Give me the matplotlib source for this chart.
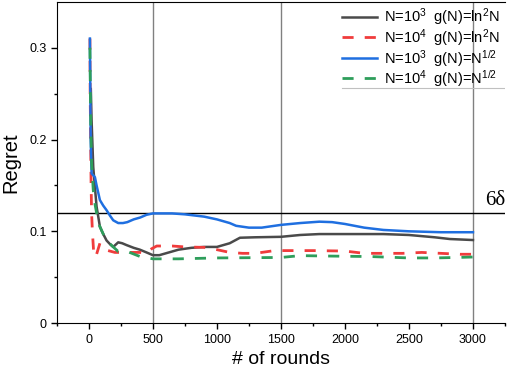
import matplotlib
matplotlib.use("Agg")
import matplotlib.pyplot as plt
from matplotlib.lines import Line2D

plt.rcParams['font.family'] = ['Liberation Sans', 'DejaVu Sans']
plt.rcParams['mathtext.fontset'] = 'custom'
plt.rcParams['mathtext.rm'] = 'Liberation Sans'
plt.rcParams['mathtext.it'] = 'Liberation Sans'

# N=10^3, g(N)=ln^2 N
x_black = [15, 21, 34, 47, 60, 86, 112, 138, 165, 190, 229, 260, 294, 350, 398, 450, 500, 550, 600,
           700, 800, 900, 1000, 1100, 1180, 1300, 1500, 1650, 1800, 2000, 2300, 2500, 2700, 2820, 3000]
y_black = [0.255, 0.221, 0.17, 0.148, 0.127, 0.105, 0.097, 0.09, 0.086, 0.083, 0.088, 0.087, 0.085, 0.082,
           0.080, 0.077, 0.074, 0.074, 0.076, 0.080, 0.082, 0.083, 0.083, 0.087, 0.093, 0.0935, 0.094, 0.096,
           0.097, 0.097, 0.097, 0.096, 0.0935, 0.0916, 0.0905]

# N=10^4, g(N)=ln^2 N
x_red = [8, 10, 13, 17, 21, 28, 36, 47, 60, 86, 112, 150, 203, 260, 320, 400, 450, 490, 530, 650, 750,
         900, 1000, 1100, 1200, 1300, 1450, 1750, 2000, 2150, 2450, 2600, 2750, 2900, 3000]
y_red = [0.31, 0.25, 0.207, 0.153, 0.12, 0.098, 0.08, 0.072, 0.075, 0.087, 0.083, 0.079, 0.077, 0.077,
         0.077, 0.077, 0.076, 0.081, 0.084, 0.084, 0.083, 0.0825, 0.080, 0.077, 0.076, 0.076, 0.079, 0.079,
         0.0785, 0.076, 0.076, 0.077, 0.076, 0.075, 0.075]

# N=10^3, g(N)=N^1/2
x_blue = [8, 14, 21, 34, 47, 60, 86, 112, 138, 165, 190, 229, 266, 300, 350, 400, 450, 500, 650, 750,
          900, 1000, 1100, 1150, 1250, 1350, 1450, 1500, 1650, 1800, 1900, 2000, 2150, 2300, 2500, 2750, 3000]
y_blue = [0.31, 0.2, 0.163, 0.161, 0.159, 0.15, 0.134, 0.128, 0.123, 0.117, 0.112, 0.109, 0.109, 0.110,
          0.113, 0.115, 0.118, 0.1195, 0.1195, 0.1185, 0.116, 0.113, 0.109, 0.106, 0.104, 0.104, 0.106,
          0.107, 0.109, 0.1105, 0.110, 0.108, 0.104, 0.1015, 0.100, 0.099, 0.099]

# N=10^4, g(N)=N^1/2
x_green = [8, 14, 21, 34, 47, 60, 80, 99, 125, 160, 190, 229, 300, 400, 450, 500, 700, 1000, 1500,
           1650, 1900, 2200, 2500, 2700, 2900, 3000]
y_green = [0.30, 0.22, 0.174, 0.145, 0.13, 0.12, 0.107, 0.101, 0.093, 0.087, 0.083, 0.078, 0.078, 0.0725,
           0.0715, 0.070, 0.070, 0.071, 0.0715, 0.0735, 0.073, 0.0725, 0.071, 0.071, 0.0716, 0.072]

labels = [r'N=10$^3$  g(N)=ln$^2$N', r'N=10$^4$  g(N)=ln$^2$N',
          r'N=10$^3$  g(N)=N$^{1/2}$', r'N=10$^4$  g(N)=N$^{1/2}$']
delta6 = 0.12

fig = plt.figure(figsize=(5.08, 3.68), dpi=100)
ax = fig.add_axes([0.112, 0.122, 0.882, 0.873])

for xv in [500, 1500, 3000]:
    ax.axvline(xv, color='#808080', lw=1.0, zorder=1)
ax.axhline(delta6, color='black', lw=1.0, zorder=1)

ax.plot(x_black, y_black, color='#4a4a4a', lw=1.8, label=labels[0], zorder=3)
ax.plot(x_red, y_red, color='#f03c3c', lw=2.0, dashes=(4, 4), label=labels[1], zorder=3)
ax.plot(x_blue, y_blue, color='#1f6fe0', lw=1.8, label=labels[2], zorder=3)
ax.plot(x_green, y_green, color='#2e9e5b', lw=2.0, dashes=(4, 4), label=labels[3], zorder=3)

ax.text(3255, delta6 + 0.003, r'6δ', fontsize=15, family='Liberation Serif', ha='right', va='bottom')

ax.set_xlim(-250, 3250)
ax.set_ylim(0, 0.35)
ax.set_xticks([0, 500, 1000, 1500, 2000, 2500, 3000])
ax.set_xticks([-250, 250, 750, 1250, 1750, 2250, 2750, 3250], minor=True)
ax.set_yticks([0, 0.1, 0.2, 0.3])
ax.set_yticklabels(['0', '0.1', '0.2', '0.3'])
ax.set_yticks([0.05, 0.15, 0.25], minor=True)
ax.tick_params(labelsize=9, length=4, width=1, direction='out')
ax.tick_params(which='minor', length=2.5, width=1)
ax.spines['right'].set_visible(False)

ax.set_xlabel('# of rounds', fontsize=14, labelpad=4)
ax.set_ylabel('Regret', fontsize=14.5, labelpad=6)

leg = ax.legend(loc='upper right', bbox_to_anchor=(1.012, 1.018), frameon=False, fontsize=10.5,
                handlelength=2.4, handletextpad=0.5, labelspacing=-0.06, borderaxespad=0.3)
ax.add_line(Line2D([0.636, 1.0], [0.732, 0.732], transform=ax.transAxes, color='#c0c0c0', lw=0.8))

fig.savefig('out.png', dpi=100)
